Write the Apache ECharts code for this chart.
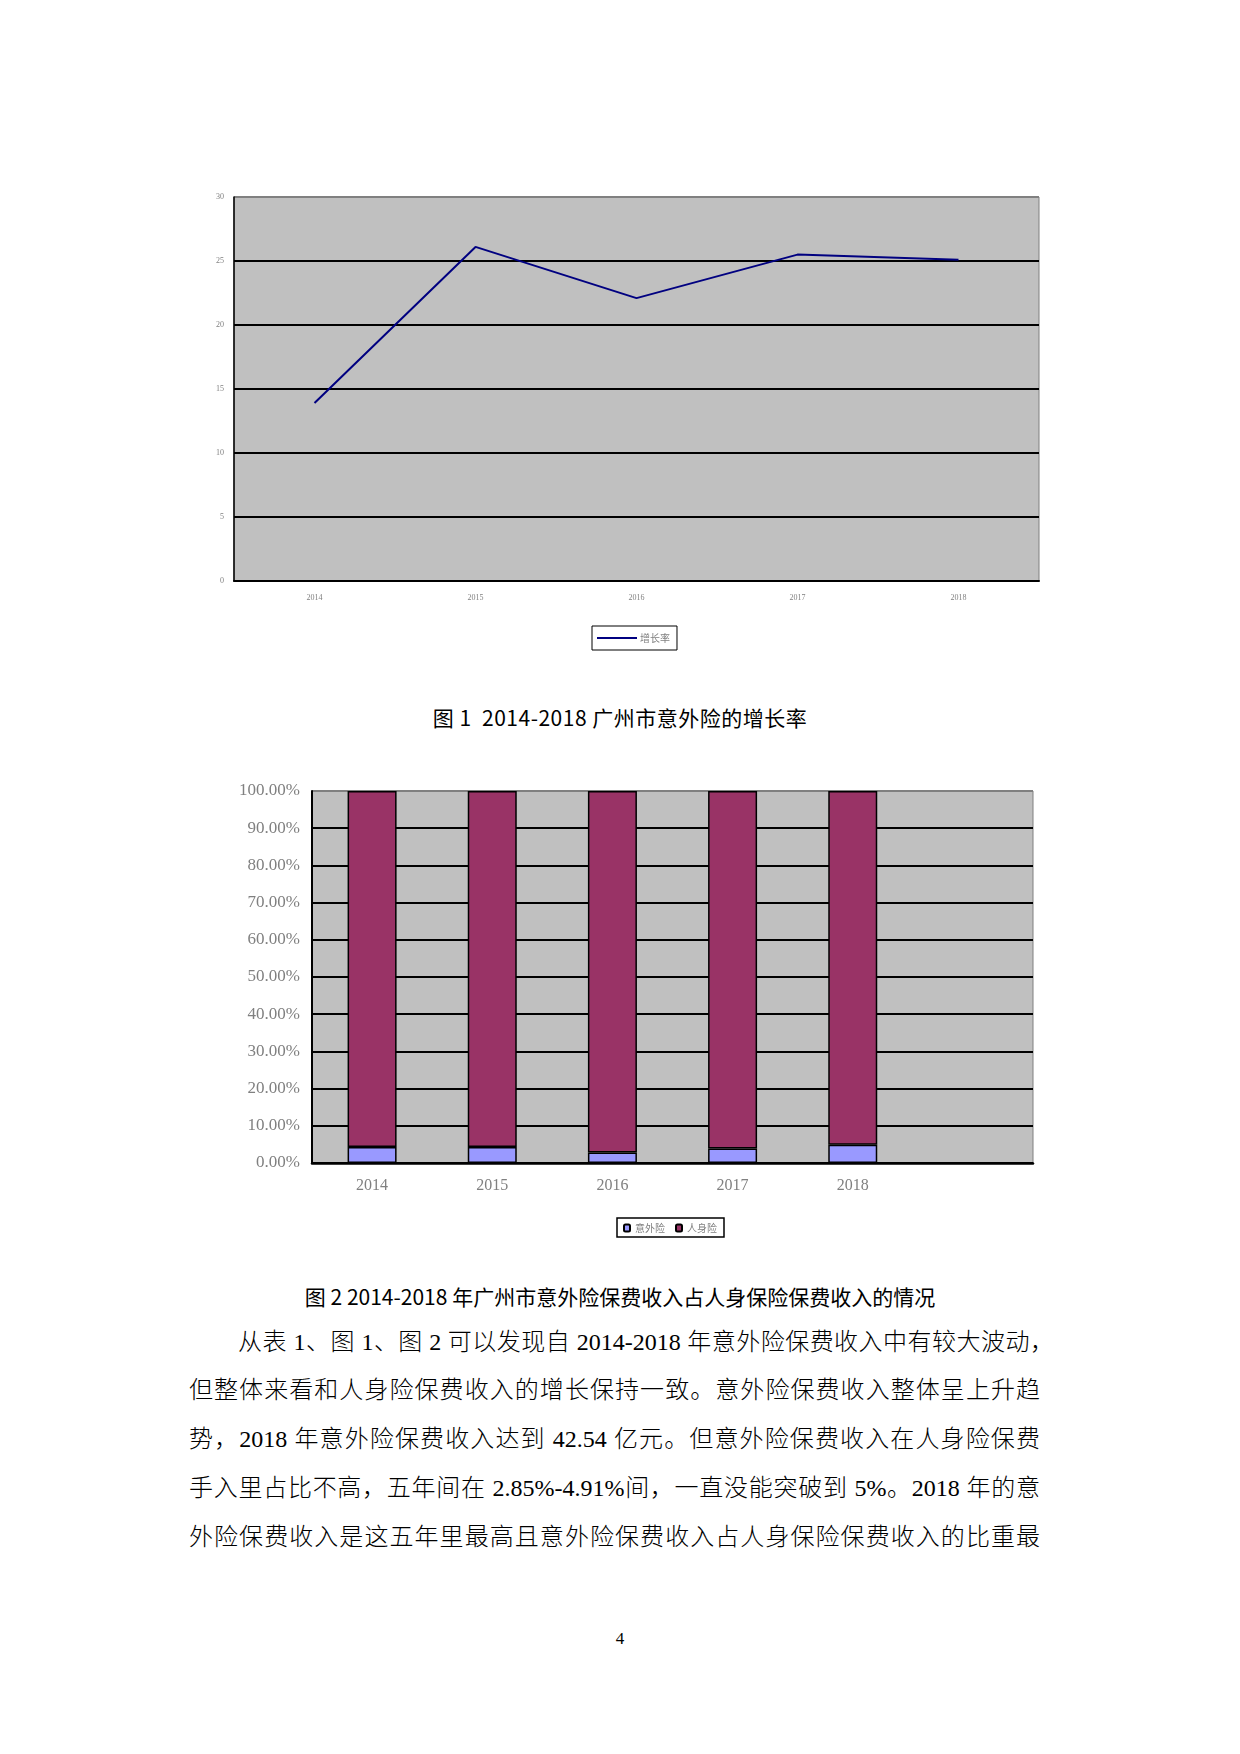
<!DOCTYPE html>
<html>
<head>
<meta charset="utf-8">
<script src="https://cdn.jsdelivr.net/npm/echarts@6/dist/echarts.min.js"></script>
<style>
  html, body { margin: 0; padding: 0; background: #fff; }
  body { width: 1240px; height: 1754px; position: relative; overflow: hidden; }
  .chart { position: absolute; }
  .caption {
    position: absolute; left: 0; width: 1240px; text-align: center;
    font-family: "Noto Sans CJK SC", sans-serif; font-size: 21px; color: #000;
    line-height: 24px; letter-spacing: 0.5px;
  }
  .line {
    position: absolute; font-family: "Liberation Serif", "Noto Sans CJK SC", serif;
    font-size: 24px; color: #000; line-height: 30px; white-space: nowrap;
    text-align: justify; text-align-last: justify; font-weight: 300;
  }
  .page-num {
    position: absolute; left: 0; width: 1240px; text-align: center; top: 1629px;
    font-family: "Liberation Serif", serif; font-size: 17px; color: #000;
  }
</style>
</head>
<body>
<div id="growthChart" class="chart" style="left:180px;top:180px;width:880px;height:480px;"></div>
<div class="caption" style="top:705px;">图 1&nbsp; 2014-2018 广州市意外险的增长率</div>

<div id="shareChart" class="chart" style="left:200px;top:770px;width:860px;height:480px;"></div>
<div class="caption" style="top:1284px;letter-spacing:0px;">图 2 2014-2018 年广州市意外险保费收入占人身保险保费收入的情况</div>

<div class="line" style="left:238px;top:1327px;width:816px;">从表 1、图 1、图 2 可以发现自 2014-2018 年意外险保费收入中有较大波动，</div>
<div class="line" style="left:189px;top:1375px;width:851px;">但整体来看和人身险保费收入的增长保持一致。意外险保费收入整体呈上升趋</div>
<div class="line" style="left:189px;top:1424px;width:851px;">势，2018 年意外险保费收入达到 42.54 亿元。但意外险保费收入在人身险保费</div>
<div class="line" style="left:189px;top:1473px;width:851px;">手入里占比不高，五年间在 2.85%-4.91%间，一直没能突破到 5%。2018 年的意</div>
<div class="line" style="left:189px;top:1522px;width:851px;">外险保费收入是这五年里最高且意外险保费收入占人身保险保费收入的比重最</div>
<div class="page-num">4</div>

<script>
// 图1 增长率
var years = ["2014", "2015", "2016", "2017", "2018"];
var growthRate = [13.9, 26.1, 22.1, 25.5, 25.1];
// 图2 占比 (%)
var shareCategories = ["2014", "2015", "2016", "2017", "2018", ""];
var accidentShare = [4.31, 4.33, 2.85, 3.87, 4.91];
var lifeShare = [95.69, 95.67, 97.15, 96.13, 95.09];

var growthChart = echarts.init(document.getElementById("growthChart"));
growthChart.setOption({
  animation: false,
  grid: {
    left: 54, top: 17, width: 805, height: 384,
    show: true, backgroundColor: "#c0c0c0", borderColor: "#808080", borderWidth: 1
  },
  legend: {
    left: 412, top: 446, itemWidth: 40, itemHeight: 2, itemGap: 0,
    padding: [7, 7, 7, 5],
    borderColor: "#000", borderWidth: 1,
    data: [{ name: "增长率", icon: "rect" }],
    textStyle: { fontSize: 10, color: "#808080", fontFamily: "Noto Sans CJK SC", padding: [0, 0, 0, -2] }
  },
  xAxis: {
    type: "category",
    data: years,
    axisLine: { lineStyle: { color: "#000", width: 2 } },
    axisTick: { inside: true, length: 4, lineStyle: { color: "#000", width: 1 } },
    axisLabel: { margin: 13, fontSize: 8, color: "#808080", fontFamily: "Liberation Serif" },
    splitLine: { show: false }
  },
  yAxis: {
    type: "value",
    min: 0, max: 30, interval: 5,
    axisLine: { show: true, lineStyle: { color: "#000", width: 1.5 } },
    axisTick: { show: false },
    axisLabel: { margin: 10, fontSize: 8, color: "#808080", fontFamily: "Liberation Serif" },
    splitLine: {
      lineStyle: {
        color: ["#000", "#000", "#000", "#000", "#000", "#000", "#808080"],
        width: 2
      }
    }
  },
  series: [{
    name: "增长率",
    type: "line",
    data: growthRate,
    symbol: "none",
    lineStyle: { color: "#000080", width: 2 },
    itemStyle: { color: "#000080" }
  }]
});

var shareChart = echarts.init(document.getElementById("shareChart"));
shareChart.setOption({
  animation: false,
  grid: {
    left: 112, top: 21, width: 721, height: 372,
    show: true, backgroundColor: "#c0c0c0", borderColor: "#808080", borderWidth: 1
  },
  legend: {
    left: 417, top: 448, itemWidth: 6, itemHeight: 7, itemGap: 10,
    padding: [5, 7, 4, 6],
    borderColor: "#000", borderWidth: 1.5,
    data: ["意外险", "人身险"],
    textStyle: { fontSize: 10, color: "#808080", fontFamily: "Noto Sans CJK SC" }
  },
  xAxis: {
    type: "category",
    data: shareCategories,
    axisLine: { lineStyle: { color: "#000", width: 2.5 } },
    axisTick: { inside: true, length: 4, lineStyle: { color: "#000", width: 1 } },
    axisLabel: { margin: 15, fontSize: 16, color: "#808080", fontFamily: "Liberation Serif" },
    splitLine: { show: false }
  },
  yAxis: {
    type: "value",
    min: 0, max: 100, interval: 10,
    axisLine: { show: true, lineStyle: { color: "#000", width: 2 } },
    axisTick: { show: false },
    axisLabel: {
      margin: 12, fontSize: 17, color: "#808080", fontFamily: "Liberation Serif",
      formatter: function (v) { return v.toFixed(2) + "%"; }
    },
    splitLine: {
      lineStyle: {
        color: ["#000", "#000", "#000", "#000", "#000", "#000", "#000", "#000", "#000", "#000", "#808080"],
        width: 2
      }
    }
  },
  series: [
    {
      name: "意外险",
      type: "bar",
      stack: "total",
      data: accidentShare,
      barWidth: 49,
      itemStyle: { color: "#9999ff", borderColor: "#000", borderWidth: 1.5 }
    },
    {
      name: "人身险",
      type: "bar",
      stack: "total",
      data: lifeShare,
      barWidth: 49,
      itemStyle: { color: "#993366", borderColor: "#000", borderWidth: 1.5 }
    }
  ]
});
</script>
</body>
</html>
